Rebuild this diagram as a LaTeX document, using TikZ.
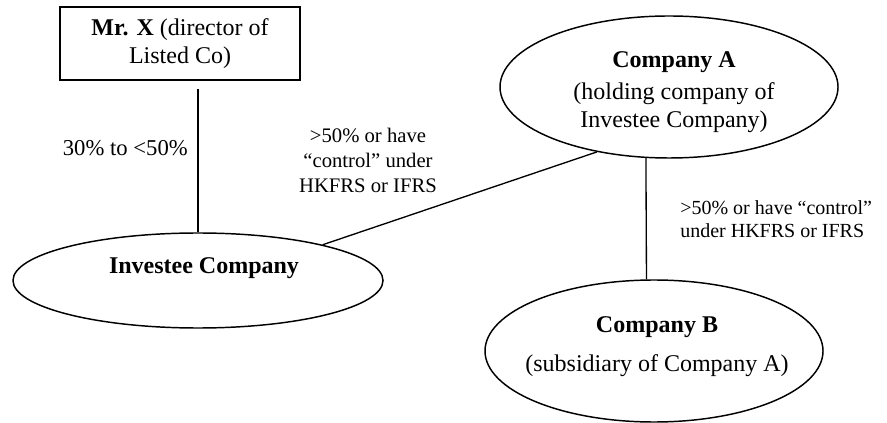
\documentclass[tikz,border=0pt]{standalone}
\usepackage{fontspec}
\setmainfont{Liberation Serif}
\usetikzlibrary{shapes.geometric}

\tikzset{
  party/.style={ellipse, draw, line width=1.1pt, inner sep=0pt},
  partytxt/.style={inner sep=0pt, align=center, font=\fontsize{18}{20.7}\selectfont},
  link/.style={line width=1pt},
  pct/.style={inner sep=0pt, font=\fontsize{15}{17.25}\selectfont}
}

\begin{document}
\begin{tikzpicture}[x=0.75pt, y=-0.75pt]
\useasboundingbox (0,0) rectangle (887,423);

% director box
\node[draw, line width=1.5pt, minimum width=180pt, minimum height=54.75pt, inner sep=0pt,
  align=center, font=\fontsize{18}{20.7}\selectfont] (mrx) at (180,43.5)
  {\textbf{Mr. X} (director of\\Listed Co)};

% the companies
\node[party, minimum width=277.5pt, minimum height=71.25pt] (inv) at (198,280.5) {};
\node[party, minimum width=253.5pt, minimum height=106.5pt] (compA) at (669,87) {};
\node[party, minimum width=253.5pt, minimum height=106.5pt] (compB) at (654,351) {};

\node[partytxt] (invtxt) at (204,268) {\textbf{Investee Company}};
\node[partytxt] (compAtxt) at (674,92)
  {\textbf{Company A}\\[3.3pt](holding company of\\Investee Company)};
\node[partytxt] (compBtxt) at (657,347)
  {\textbf{Company B}\\[8.6pt](subsidiary of Company A)};

% holdings
\draw[link, shorten <=6pt] (mrx.south -| inv.north) -- (inv.north);
\draw[link] (compA.222.5) -- (inv.16);
\draw[link] (compA.252) -- (compB.96);

\node[pct, anchor=base east, font=\fontsize{17}{19.5}\selectfont] (share) at (188,156)
  {30\% to <50\%};
\node[pct, align=center, font=\fontsize{15.5}{18.75}\selectfont] (ctrlA) at (368,160)
  {>50\% or have\\“control” under\\HKFRS or IFRS};
\node[pct, align=left, anchor=west] (ctrlB) at (680,219)
  {>50\% or have “control”\\under HKFRS or IFRS};
\end{tikzpicture}
\end{document}
